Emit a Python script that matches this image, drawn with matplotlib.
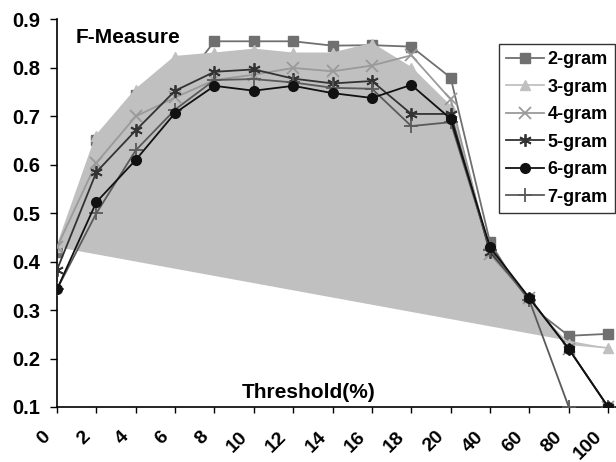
import numpy as np
from matplotlib import pyplot as plt
from matplotlib.transforms import ScaledTranslation

plt.rcParams['font.family'] = ['Liberation Sans', 'DejaVu Sans']
plt.rcParams['font.weight'] = 'bold'

thresholds = ['0', '2', '4', '6', '8', '10', '12', '14', '16', '18', '20', '40', '60', '80', '100']

gram2 = [0.42, 0.652, 0.745, 0.75, 0.855, 0.855, 0.855, 0.846, 0.847, 0.844, 0.78, 0.44, 0.31, 0.247, 0.251]
gram3 = [0.43, 0.66, 0.755, 0.823, 0.83, 0.838, 0.83, 0.83, 0.85, 0.80, 0.72, 0.42, 0.315, 0.23, 0.222]
gram4 = [0.43, 0.604, 0.70, 0.739, 0.775, 0.786, 0.80, 0.793, 0.805, 0.826, 0.735, 0.415, 0.325, 0.22, 0.10]
gram5 = [0.383, 0.585, 0.671, 0.753, 0.792, 0.797, 0.778, 0.768, 0.773, 0.705, 0.705, 0.42, 0.325, 0.22, 0.10]
gram6 = [0.343, 0.523, 0.61, 0.707, 0.763, 0.753, 0.763, 0.748, 0.738, 0.765, 0.695, 0.43, 0.325, 0.22, 0.10]
gram7 = [0.343, 0.50, 0.63, 0.714, 0.775, 0.777, 0.77, 0.759, 0.757, 0.68, 0.688, 0.425, 0.32, 0.10, 0.10]

x = np.arange(len(thresholds))

fig = plt.figure(figsize=(6.16, 4.62), dpi=100)
ax = fig.add_axes([57/616, 1-407/462, 1-57/616, (407-19.5)/462])

# 3-gram drawn as a closed filled shape
ax.fill(x, gram3, color='#c0c0c0', zorder=1, lw=0)

ax.plot(x, gram2, color='#707070', marker='s', ms=7, lw=1.3, label='2-gram', zorder=0.5)
ax.plot(x, gram3, color='#c0c0c0', marker='^', ms=7, lw=1.3, label='3-gram', zorder=2)
ax.plot(x, gram4, color='#9a9a9a', marker='x', ms=8, mew=1.3, lw=1.3, label='4-gram', zorder=3)
ax.plot(x, gram5, color='#333333', marker=(6, 2, 0), ms=9, mew=1.3, lw=1.3, label='5-gram', zorder=4)
ax.plot(x, gram6, color='#111111', marker='o', ms=7, lw=1.3, label='6-gram', zorder=5)
ax.plot(x, gram7, color='#5a5a5a', marker='+', ms=10, mew=1.3, lw=1.3, label='7-gram', zorder=4)

ax.set_xlim(0, 14.2)
ax.set_ylim(0.1, 0.9)
ax.tick_params(axis='x', direction='out', length=4.5, pad=15, width=1)
ax.tick_params(axis='y', direction='out', length=5, pad=7, width=1)
ax.set_yticks(np.arange(0.1, 0.91, 0.1))
ax.set_yticklabels(['%.1f' % v for v in np.arange(0.1, 0.91, 0.1)], fontsize=14.5, fontweight='bold')
ax.set_xticks(x)
ax.set_xticklabels(thresholds, fontsize=14, fontweight='bold', rotation=45,
                   ha='right', va='center', rotation_mode='anchor')
shift = ScaledTranslation(-9/100, 0, fig.dpi_scale_trans)
for lab in ax.get_xticklabels():
    lab.set_transform(lab.get_transform() + shift)
ax.spines['top'].set_visible(False)
ax.spines['right'].set_visible(False)
ax.spines['left'].set_linewidth(1.2)
ax.spines['bottom'].set_linewidth(1.2)
ax.patch.set_alpha(0)

fig.text(76/616, 1-37.7/462, 'F-Measure', fontsize=15, fontweight='bold', va='center', ha='left')
fig.text(242/616, 1-392/462, 'Threshold(%)', fontsize=15, fontweight='bold', va='center', ha='left')

leg = ax.legend(loc='upper right', bbox_to_anchor=(615/616, 1-44/462), bbox_transform=fig.transFigure,
                prop={'size': 13, 'weight': 'bold'}, frameon=True, fancybox=False,
                handlelength=2.1, handletextpad=0.2, labelspacing=0.58, borderpad=0.4,
                borderaxespad=0)
leg.get_frame().set_edgecolor('black')
leg.get_frame().set_linewidth(1)

plt.savefig('out.png', dpi=100)
